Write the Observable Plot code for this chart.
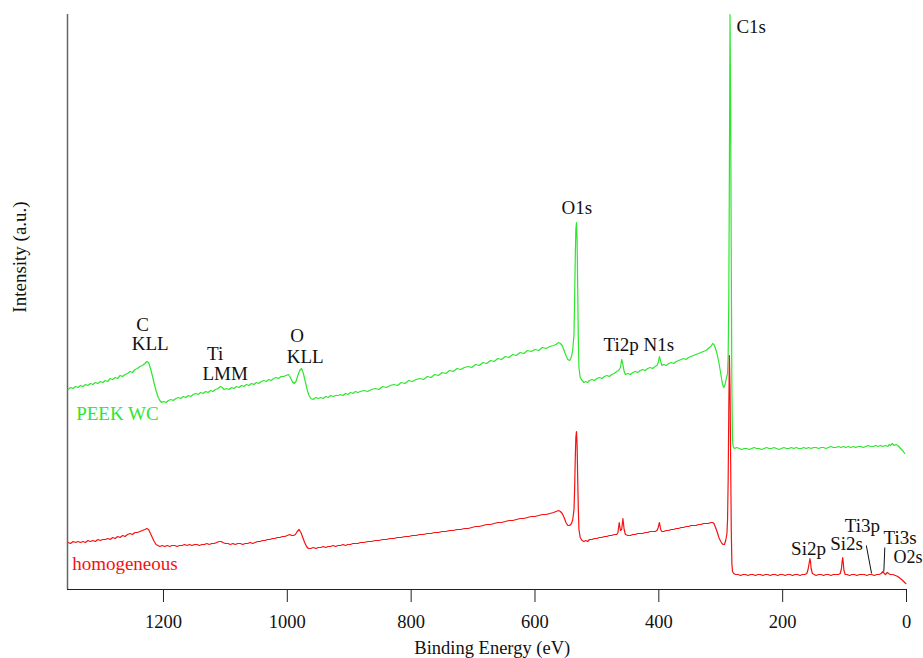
<!DOCTYPE html>
<html><head><meta charset="utf-8">
<script src="https://cdn.jsdelivr.net/npm/d3@7"></script>
<script src="https://cdn.jsdelivr.net/npm/@observablehq/plot@0.6"></script>
<style>body{margin:0;background:#fff}</style>
</head><body><div id="chart"></div>
<script>
// x tick labels (Binding Energy, eV)
const xTicks = [0, 200, 400, 600, 800, 1000, 1200];
const xDomain = [1355, 0];

// PEEK WC survey spectrum: [binding energy (eV), intensity (a.u.)]
const peekWC = [[1354,200],[1350,202],[1346,201],[1342,203],[1338,202],[1334,204],[1330,203],[1326,205],[1322,204],[1318,206],[1314,205],[1310,207],[1306,206],[1302,208],[1298,207],[1294,209],[1290,208],[1286,211],[1282,210],[1278,212],[1274,211],[1270,214],[1266,213],[1262,215],[1258,216],[1254,218],[1250,217],[1246,220],[1242,221],[1238,223],[1234,224],[1230,226],[1227,228],[1224,227],[1221,221],[1218,214],[1215,206],[1212,199],[1209,193],[1206,189],[1203,187],[1200,188],[1196,187],[1192,189],[1188,190],[1184,189],[1180,191],[1176,192],[1172,191],[1168,193],[1164,192],[1160,194],[1156,193],[1152,195],[1148,196],[1144,195],[1140,197],[1136,196],[1132,198],[1128,197],[1124,199],[1120,198],[1116,200],[1112,201],[1108,203],[1105,202],[1102,200],[1098,201],[1094,200],[1090,202],[1086,201],[1082,203],[1078,202],[1074,204],[1070,203],[1066,205],[1062,204],[1058,206],[1054,205],[1050,207],[1046,206],[1042,208],[1038,209],[1034,208],[1030,210],[1026,209],[1022,211],[1018,212],[1014,211],[1010,213],[1006,213],[1002,214],[998,215],[995,212],[992,208],[989,206],[986,208],[983,214],[980,219],[977,221],[974,216],[971,208],[968,200],[965,194],[962,191],[958,190],[954,192],[950,191],[946,192],[942,191],[938,193],[934,192],[930,194],[926,193],[922,194],[918,194],[914,195],[910,194],[906,196],[902,195],[898,197],[894,196],[890,198],[886,197],[882,198],[876,199],[870,198],[864,200],[858,201],[852,200],[846,203],[840,202],[834,204],[828,205],[822,204],[816,207],[810,206],[804,209],[798,208],[792,210],[786,211],[780,210],[774,213],[768,212],[762,215],[756,214],[750,217],[744,216],[738,219],[732,218],[726,221],[720,220],[714,222],[708,223],[702,222],[696,225],[690,224],[684,227],[678,226],[672,229],[666,228],[660,231],[654,230],[648,233],[642,232],[636,235],[630,234],[624,237],[618,236],[612,239],[606,238],[600,240],[594,239],[588,242],[582,241],[576,243],[570,244],[566,245],[562,247],[559,246],[556,244],[553,239],[550,234],[547,230],[544,229],[541,233],[539,240],[537,255],[536,290],[535,330],[534,360],[533,367],[532,350],[531,300],[530,250],[529,222],[527,212],[524,209],[521,207],[518,208],[515,207],[512,209],[508,210],[504,209],[500,211],[496,212],[492,211],[488,213],[484,214],[480,213],[476,215],[472,216],[468,218],[465,219],[462,222],[460,230],[458,225],[456,218],[454,215],[450,216],[446,215],[442,217],[438,218],[434,217],[430,219],[426,220],[422,219],[418,221],[414,222],[410,221],[406,223],[403,224],[401,227],[399,233],[397,228],[395,224],[392,225],[388,224],[384,226],[380,227],[376,226],[372,228],[368,229],[364,230],[360,231],[356,230],[352,232],[348,233],[344,234],[340,235],[336,236],[332,237],[328,238],[324,239],[320,241],[316,243],[313,246],[311,245],[309,242],[306,236],[303,227],[300,216],[298,208],[296,203],[295,202],[293,205],[291,211],[289,216],[288,235],[287,290],[286,420],[285,575],[284,480],[283,330],[282,200],[281,150],[280,143],[278,141],[274,142],[270,141],[266,140],[262,141],[258,141],[254,140],[250,141],[246,142],[242,141],[238,141],[234,140],[230,141],[226,142],[222,141],[218,141],[214,142],[210,141],[206,140],[202,141],[198,142],[194,141],[190,141],[186,142],[182,141],[178,142],[174,141],[170,141],[166,142],[162,141],[158,142],[154,141],[150,142],[146,142],[142,141],[138,142],[134,142],[130,141],[126,142],[122,143],[118,142],[114,142],[110,143],[106,142],[102,143],[98,142],[94,143],[90,142],[86,143],[82,142],[78,143],[74,143],[70,142],[66,143],[62,144],[58,143],[54,143],[50,144],[46,143],[42,144],[38,143],[34,144],[30,143],[28,145],[26,144],[23,146],[20,144],[17,145],[14,144],[11,142],[8,140],[5,138],[3,136]];

// homogeneous survey spectrum: [binding energy (eV), intensity (a.u.)]
const homogeneous = [[1354,47],[1350,46],[1346,48],[1342,47],[1338,48],[1334,47],[1330,48],[1326,47],[1322,49],[1318,48],[1314,49],[1310,48],[1306,50],[1302,49],[1298,50],[1294,50],[1290,51],[1286,50],[1282,52],[1278,51],[1274,53],[1270,52],[1266,54],[1262,53],[1258,55],[1254,56],[1250,55],[1246,57],[1242,57],[1238,58],[1234,59],[1230,60],[1227,61],[1224,60],[1221,56],[1218,52],[1215,48],[1212,45],[1209,44],[1206,43],[1202,44],[1198,43],[1194,44],[1190,43],[1186,44],[1182,44],[1178,43],[1174,44],[1170,44],[1166,45],[1162,44],[1158,45],[1154,44],[1150,45],[1146,45],[1142,44],[1138,45],[1134,45],[1130,46],[1126,45],[1122,46],[1118,46],[1114,47],[1110,48],[1107,48],[1104,47],[1100,46],[1096,46],[1092,45],[1088,46],[1084,45],[1080,46],[1076,46],[1072,45],[1068,46],[1064,46],[1060,47],[1056,46],[1052,47],[1048,48],[1044,48],[1040,49],[1036,49],[1032,50],[1028,50],[1024,51],[1020,51],[1016,52],[1012,52],[1008,53],[1004,53],[1000,54],[996,55],[993,54],[990,54],[987,55],[984,58],[981,60],[978,57],[975,52],[972,47],[969,43],[966,41],[962,41],[958,42],[954,41],[950,42],[946,42],[942,43],[938,42],[934,43],[930,43],[926,44],[922,43],[918,44],[914,44],[910,45],[906,44],[902,45],[898,45],[894,46],[890,46],[886,46],[882,47],[876,47],[870,48],[864,48],[858,49],[852,49],[846,50],[840,50],[834,51],[828,51],[822,52],[816,52],[810,53],[804,53],[798,54],[792,54],[786,55],[780,55],[774,56],[768,56],[762,57],[756,57],[750,58],[744,58],[738,59],[732,59],[726,60],[720,60],[714,61],[708,61],[702,62],[696,63],[690,63],[684,64],[678,65],[672,65],[666,66],[660,67],[654,67],[648,68],[642,69],[636,69],[630,70],[624,71],[618,71],[612,72],[606,73],[600,73],[594,74],[588,75],[582,75],[576,76],[570,77],[566,78],[562,79],[559,78],[556,76],[553,72],[550,67],[547,64],[544,64],[541,66],[539,70],[537,80],[536,100],[535,130],[534,152],[533,158],[532,145],[531,110],[530,80],[529,60],[527,52],[524,49],[521,48],[518,49],[515,48],[512,50],[508,50],[504,51],[500,51],[496,52],[492,52],[488,53],[484,53],[480,54],[476,54],[472,55],[468,55],[466,57],[464,67],[462,59],[460,60],[458,71],[456,60],[454,55],[450,54],[446,54],[442,55],[438,55],[434,56],[430,56],[426,56],[422,57],[418,57],[414,58],[410,58],[406,58],[403,59],[401,62],[399,67],[397,60],[395,58],[392,58],[388,59],[384,59],[380,60],[376,60],[372,61],[368,61],[364,62],[360,62],[356,63],[352,63],[348,64],[344,64],[340,64],[336,65],[332,65],[328,66],[324,66],[320,66],[316,67],[313,67],[311,66],[309,63],[306,58],[303,52],[300,48],[298,46],[296,45],[294,45],[292,49],[290,56],[289,70],[288,110],[287,180],[286,234],[285,200],[284,130],[283,60],[282,26],[281,18],[279,16],[276,15],[272,15],[268,14],[264,15],[260,15],[256,14],[252,15],[248,15],[244,14],[240,15],[236,15],[232,14],[228,15],[224,15],[220,14],[216,15],[212,15],[208,14],[204,15],[200,15],[196,14],[192,15],[188,15],[184,14],[180,15],[176,15],[172,14],[168,15],[164,15],[161,16],[159,20],[157,27],[156,31],[155,28],[154,21],[152,16],[149,15],[146,14],[142,15],[138,15],[134,14],[130,15],[126,15],[122,14],[118,15],[114,15],[110,15],[107,16],[105,21],[104,28],[103,32],[102,26],[101,19],[99,15],[96,15],[92,14],[88,15],[84,15],[80,14],[76,15],[72,15],[68,15],[64,14],[60,15],[56,15],[52,14],[48,15],[44,15],[41,16],[38,18],[36,16],[34,15],[31,17],[29,16],[26,15],[22,15],[18,14],[14,13],[10,11],[6,9],[3,7],[1,6]];

// peak annotations centred on their point: [text, energy, intensity]
const peakLabels = [
  ["O1s", 532.4, 382],
  ["C", 1233.6, 265],
  ["KLL", 1221.5, 246],
  ["Ti", 1116.5, 236],
  ["LMM", 1100.3, 216],
  ["O", 984.0, 254],
  ["KLL", 971.1, 233],
  ["Ti2p N1s", 432.2, 245],
  ["Si2p", 158.3, 41],
  ["Si2s", 96.9, 46],
  ["Ti3p", 71.1, 64]
];
// peak annotations starting at their point: [text, energy, intensity]
const peakLabelsStart = [
  ["C1s", 274.7, 563],
  ["Ti3s", 37.2, 52]
];
const peakLabelsSmall = [["O2s", 21, 32]];
// leader lines for Ti3p / Ti3s: [e1, i1, e2, i2]
const leaders = [[64.9, 44, 56.4, 16], [35.0, 42, 36.6, 18]];
// series names: [text, energy, intensity]
const seriesNames = [["PEEK WC", 1341, 176], ["homogeneous", 1347.5, 26]];

const green = "#2ee62e", red = "#f51212";
const font = "'Liberation Serif', 'Times New Roman', 'DejaVu Serif', serif";

const chart = Plot.plot({
  width: 923, height: 658,
  marginLeft: 67, marginRight: 17, marginTop: 14, marginBottom: 69,
  style: {fontFamily: font, fontSize: "19px", background: "#fff", color: "#111", overflow: "visible"},
  x: {domain: xDomain},
  y: {domain: [0, 575], axis: null},
  marks: [
    Plot.ruleX([xDomain[0]], {stroke: "#666", strokeWidth: 1.5}),
    Plot.ruleY([0], {stroke: "#222", strokeWidth: 1.2}),
    Plot.axisX({ticks: xTicks, tickFormat: d => String(d), tickSize: 13, tickPadding: 12, fontSize: 18.5, label: null, stroke: "#222"}),
    Plot.line(peekWC, {x: d => d[0], y: d => d[1], stroke: green, strokeWidth: 1.2}),
    Plot.line(homogeneous, {x: d => d[0], y: d => d[1], stroke: red, strokeWidth: 1.2}),
    Plot.link(leaders, {x1: d => d[0], y1: d => d[1], x2: d => d[2], y2: d => d[3], stroke: "#111", strokeWidth: 1}),
    Plot.text(peakLabels, {x: d => d[1], y: d => d[2], text: d => d[0], textAnchor: "middle", fill: "#111", fontSize: 19}),
    Plot.text(peakLabelsStart, {x: d => d[1], y: d => d[2], text: d => d[0], textAnchor: "start", fill: "#111", fontSize: 19}),
    Plot.text(peakLabelsSmall, {x: d => d[1], y: d => d[2], text: d => d[0], textAnchor: "start", fill: "#111", fontSize: 18}),
    Plot.text(seriesNames.slice(0, 1), {x: d => d[1], y: d => d[2], text: d => d[0], textAnchor: "start", fill: green, fontSize: 19}),
    Plot.text(seriesNames.slice(1), {x: d => d[1], y: d => d[2], text: d => d[0], textAnchor: "start", fill: red, fontSize: 19}),
    Plot.text(["Binding Energy (eV)"], {x: 669, y: -59, text: d => d, fontSize: 18.5, fill: "#111"}),
    Plot.text(["Intensity (a.u.)"], {x: 1432.6, y: 332.5, text: d => d, rotate: -90, fontSize: 19, fill: "#111"})
  ]
});
document.getElementById("chart").append(chart);
</script>
</body></html>
